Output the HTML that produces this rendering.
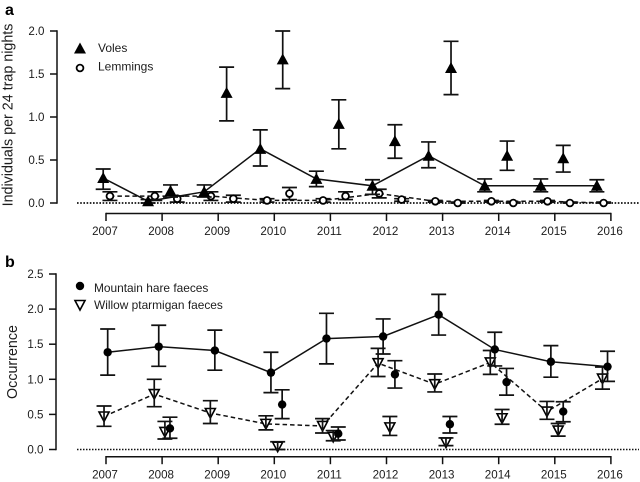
<!DOCTYPE html>
<html lang="en">
<head>
<meta charset="utf-8">
<title>Voles, lemmings, hare and ptarmigan indices</title>
<style>
html,body{margin:0;padding:0;background:#fff;}
svg{display:block;font-family:"Liberation Sans",Arial,sans-serif;fill:#1c1c1c;}
</style>
</head>
<body>
<svg id="chart" xmlns="http://www.w3.org/2000/svg" width="640" height="482" viewBox="0 0 640 482">
  <text x="5" y="15" font-size="16" font-weight="bold" fill="#000">a</text>
  <text x="5" y="267" font-size="16" font-weight="bold" fill="#000">b</text>
  <text transform="translate(12.5,115) rotate(-90)" text-anchor="middle" font-size="14.3">Individuals per 24 trap nights</text>
  <text transform="translate(17,362) rotate(-90)" text-anchor="middle" font-size="14.3">Occurrence</text>
  <text x="98" y="52" font-size="12">Voles</text>
  <text x="98" y="70.5" font-size="12">Lemmings</text>
  <text x="94" y="292" font-size="11.9">Mountain hare faeces</text>
  <text x="94" y="309" font-size="11.9">Willow ptarmigan faeces</text>
</svg>
<script>
const yearTicks = [2007, 2008, 2009, 2010, 2011, 2012, 2013, 2014, 2015, 2016];
const yTicksA = [0, 0.5, 1, 1.5, 2];
const yTicksB = [0, 0.5, 1, 1.5, 2, 2.5];

const volesAutumnT = [2006.95, 2007.75, 2008.75, 2009.75, 2010.75, 2011.75, 2012.75, 2013.75, 2014.75, 2015.75];
const volesAutumn = [0.29, 0.02, 0.13, 0.63, 0.28, 0.2, 0.55, 0.2, 0.2, 0.2];
const volesAutumnHi = [0.395, 0.04, 0.21, 0.85, 0.37, 0.27, 0.71, 0.28, 0.28, 0.27];
const volesAutumnLo = [0.16, 0.0, 0.07, 0.43, 0.19, 0.1, 0.41, 0.13, 0.13, 0.13];

const volesSpringT = [2008.15, 2009.15, 2010.15, 2011.15, 2012.15, 2013.15, 2014.15, 2015.15];
const volesSpring = [0.14, 1.28, 1.67, 0.92, 0.72, 1.57, 0.55, 0.52];
const volesSpringHi = [0.21, 1.58, 2.0, 1.2, 0.91, 1.88, 0.72, 0.67];
const volesSpringLo = [0.07, 0.955, 1.33, 0.63, 0.52, 1.26, 0.38, 0.36];

const lemmingsAutumnT = [2007.07, 2007.87, 2008.87, 2009.87, 2010.87, 2011.87, 2012.87, 2013.87, 2014.87, 2015.87];
const lemmingsAutumn = [0.08, 0.08, 0.08, 0.03, 0.03, 0.11, 0.02, 0.02, 0.02, 0.0];
const lemmingsAutumnHi = [0.13, 0.13, 0.13, 0.05, 0.05, 0.16, 0.03, 0.03, 0.03, 0.01];
const lemmingsAutumnLo = [0.03, 0.03, 0.03, 0.01, 0.01, 0.06, 0.01, 0.01, 0.01, 0.0];

const lemmingsSpringT = [2008.27, 2009.27, 2010.27, 2011.27, 2012.27, 2013.27, 2014.26, 2015.27];
const lemmingsSpring = [0.05, 0.05, 0.11, 0.08, 0.04, 0.0, 0.0, 0.0];
const lemmingsSpringHi = [0.08, 0.09, 0.18, 0.13, 0.05, 0.01, 0.01, 0.01];
const lemmingsSpringLo = [0.01, 0.01, 0.04, 0.04, 0.02, 0.0, 0.0, 0.0];

const hareAutumnT = [2007.03, 2007.94, 2008.94, 2009.94, 2010.93, 2011.94, 2012.93, 2013.93, 2014.93, 2015.94];
const hareAutumn = [1.385, 1.465, 1.41, 1.095, 1.58, 1.61, 1.92, 1.425, 1.25, 1.18];
const hareAutumnHi = [1.717, 1.77, 1.7, 1.385, 1.94, 1.86, 2.21, 1.67, 1.48, 1.4];
const hareAutumnLo = [1.06, 1.185, 1.13, 0.81, 1.22, 1.36, 1.63, 1.19, 1.03, 0.97];

const hareSpringT = [2008.14, 2010.14, 2011.14, 2012.15, 2013.13, 2014.14, 2015.15];
const hareSpring = [0.3, 0.64, 0.225, 1.07, 0.36, 0.96, 0.54];
const hareSpringHi = [0.46, 0.85, 0.32, 1.265, 0.47, 1.155, 0.68];
const hareSpringLo = [0.16, 0.44, 0.135, 0.875, 0.235, 0.775, 0.395];

const ptarmiganAutumnT = [2006.965, 2007.86, 2008.86, 2009.85, 2010.86, 2011.85, 2012.86, 2013.85, 2014.86, 2015.85];
const ptarmiganAutumn = [0.47, 0.79, 0.52, 0.365, 0.335, 1.23, 0.93, 1.24, 0.54, 1.01];
const ptarmiganAutumnHi = [0.62, 1.0, 0.695, 0.48, 0.44, 1.44, 1.075, 1.41, 0.685, 1.175];
const ptarmiganAutumnLo = [0.33, 0.61, 0.37, 0.28, 0.235, 1.04, 0.82, 1.07, 0.43, 0.86];

const ptarmiganSpringT = [2008.05, 2010.06, 2011.05, 2012.06, 2013.06, 2014.06, 2015.06];
const ptarmiganSpring = [0.25, 0.04, 0.18, 0.315, 0.1, 0.445, 0.27];
const ptarmiganSpringHi = [0.4, 0.11, 0.27, 0.47, 0.165, 0.57, 0.37];
const ptarmiganSpringLo = [0.15, 0.0, 0.125, 0.2, 0.055, 0.36, 0.19];

const svg = document.getElementById('chart');
const NS = 'http://www.w3.org/2000/svg';

function xScale(t) { return 106 + (t - 2007) * 56.1; }
function yScaleA(v) { return 203 - v * 86; }
function yScaleB(v) { return 449.5 - v * 70.2; }

function make(tag, props) {
  const el = document.createElementNS(NS, tag);
  for (const k in props) el.setAttribute(k, props[k]);
  return el;
}

function drawLine(group, x1, y1, x2, y2, width, dash) {
  const l = make('line', { x1: x1, y1: y1, x2: x2, y2: y2, stroke: '#111', 'stroke-width': width });
  if (dash) l.setAttribute('stroke-dasharray', dash);
  
  
  group.appendChild(l);
}

function drawAxes(name, yScale, ticks, xAxisY, yAxisX, zeroY, labelY) {
  const g = make('g', {});
  
  
  drawLine(g, yAxisX, yScale(ticks[ticks.length - 1]) - 0.7, yAxisX, yScale(ticks[0]) + 0.7, 1.5);
  ticks.forEach(function (v) {
    const y = yScale(v);
    drawLine(g, yAxisX - 7, y, yAxisX, y, 1.5);
    const t = make('text', { x: yAxisX - 12.5, y: y + 4, 'text-anchor': 'end', 'font-size': 11.6 });
    t.textContent = v.toFixed(1);
    
    
    g.appendChild(t);
  });
  drawLine(g, xScale(yearTicks[0]), xAxisY, xScale(yearTicks[yearTicks.length - 1]), xAxisY, 1.5);
  yearTicks.forEach(function (yr) {
    const x = xScale(yr);
    drawLine(g, x, xAxisY - 0.7, x, xAxisY + 7.5, 1.5);
    const t = make('text', { x: x - 1, y: labelY, 'text-anchor': 'middle', 'font-size': 11.6 });
    t.textContent = yr;
    
    
    g.appendChild(t);
  });
  drawLine(g, 77, zeroY, 639, zeroY, name === 'panel-a' ? 1.8 : 1.4, name === 'panel-a' ? '1.6 1.6' : '1.5 1.5');
  svg.appendChild(g);
}

function marker(kind, x, y, parent) {
  let m;
  if (kind === 'up') {
    m = make('polygon', { points: (x - 6) + ',' + (y + 5) + ' ' + (x + 6) + ',' + (y + 5) + ' ' + x + ',' + (y - 6), fill: '#000', stroke: 'none' });
  } else if (kind === 'down') {
    m = make('polygon', { points: (x - 5) + ',' + (y - 4.5) + ' ' + (x + 5) + ',' + (y - 4.5) + ' ' + x + ',' + (y + 5), fill: '#fff', stroke: '#000', 'stroke-width': 1.6 });
  } else if (kind === 'open') {
    m = make('circle', { cx: x, cy: y, r: 3.4, fill: '#fff', stroke: '#000', 'stroke-width': 1.8 });
  } else {
    m = make('circle', { cx: x, cy: y, r: 4.2, fill: '#000', stroke: 'none' });
  }
  
  
  parent.appendChild(m);
}

function drawSeries(name, yScale, times, values, hi, lo, kind, connect, dash, capHalf) {
  const g = make('g', {});
  
  
  if (connect) {
    const pts = times.map(function (t, i) { return xScale(t) + ',' + yScale(values[i]); }).join(' ');
    const p = make('polyline', { points: pts, fill: 'none', stroke: '#111', 'stroke-width': 1.5 });
    if (dash) p.setAttribute('stroke-dasharray', dash);
    
    
    g.appendChild(p);
  }
  times.forEach(function (t, i) {
    const x = xScale(t);
    const top = yScale(hi[i]);
    const bottom = yScale(lo[i]);
    if (kind === 'down') marker(kind, x, yScale(values[i]), g);
    const w = make('path', {
      d: 'M' + (x - capHalf) + ' ' + top + 'H' + (x + capHalf) + 'M' + x + ' ' + top + 'V' + bottom + 'M' + (x - capHalf) + ' ' + bottom + 'H' + (x + capHalf),
      fill: 'none', stroke: '#111', 'stroke-width': 1.7
    });
    
    
    g.appendChild(w);
    if (kind !== 'down') marker(kind, x, yScale(values[i]), g);
  });
  svg.appendChild(g);
}

drawAxes('panel-a', yScaleA, yTicksA, 213.5, 57, 203, 235);
drawAxes('panel-b', yScaleB, yTicksB, 456.7, 56, 449.5, 478.5);

drawSeries('lemmings-autumn', yScaleA, lemmingsAutumnT, lemmingsAutumn, lemmingsAutumnHi, lemmingsAutumnLo, 'open', true, '4.5 3', 7.5);
drawSeries('lemmings-spring', yScaleA, lemmingsSpringT, lemmingsSpring, lemmingsSpringHi, lemmingsSpringLo, 'open', false, null, 7.5);
drawSeries('voles-autumn', yScaleA, volesAutumnT, volesAutumn, volesAutumnHi, volesAutumnLo, 'up', true, null, 7.5);
drawSeries('voles-spring', yScaleA, volesSpringT, volesSpring, volesSpringHi, volesSpringLo, 'up', false, null, 7.5);
drawSeries('ptarmigan-autumn', yScaleB, ptarmiganAutumnT, ptarmiganAutumn, ptarmiganAutumnHi, ptarmiganAutumnLo, 'down', true, '4.5 3', 7.5);
drawSeries('ptarmigan-spring', yScaleB, ptarmiganSpringT, ptarmiganSpring, ptarmiganSpringHi, ptarmiganSpringLo, 'down', false, null, 7.5);
drawSeries('hare-autumn', yScaleB, hareAutumnT, hareAutumn, hareAutumnHi, hareAutumnLo, 'solid', true, null, 7.5);
drawSeries('hare-spring', yScaleB, hareSpringT, hareSpring, hareSpringHi, hareSpringLo, 'solid', false, null, 7.5);

const legend = make('g', {});


marker('up', 80, 48.5, legend);
marker('open', 80, 68, legend);
marker('solid', 80, 286, legend);
marker('down', 80, 305, legend);
svg.appendChild(legend);
</script>
</body>
</html>
